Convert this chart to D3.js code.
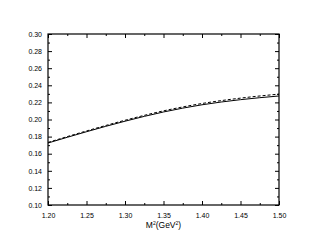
<!DOCTYPE html>
<html>
<head>
<meta charset="utf-8">
<script src="https://cdn.jsdelivr.net/npm/d3@7"></script>
<style>
  body { margin: 0; background: #fff; }
  text { font-family: "Liberation Sans", Arial, sans-serif; fill: #000; }
</style>
</head>
<body>
<div id="chart"></div>
<script>
// Data
var m2 = [1.20, 1.25, 1.30, 1.35, 1.40, 1.45, 1.50];
var solid = [0.1725, 0.1857, 0.1980, 0.2088, 0.2172, 0.2232, 0.2275];
var dashed = [0.1732, 0.1866, 0.1991, 0.2101, 0.2187, 0.2250, 0.2297];
var xTicks = [1.20, 1.25, 1.30, 1.35, 1.40, 1.45, 1.50];
var yTicks = [0.10, 0.12, 0.14, 0.16, 0.18, 0.20, 0.22, 0.24, 0.26, 0.28, 0.30];

var W = 313, H = 249;
var margin = {top: 34, right: 34, bottom: 44, left: 48},
    width = W - margin.left - margin.right,
    height = H - margin.top - margin.bottom;

var svg = d3.select("#chart")
  .append("svg")
    .attr("width", W)
    .attr("height", H)
  .append("g")
    .attr("transform", "translate(" + margin.left + "," + margin.top + ")");

var x = d3.scaleLinear().domain([1.20, 1.50]).range([0, width]);
var y = d3.scaleLinear().domain([0.10, 0.30]).range([height, 0]);

// minor ticks halfway between majors
var xMinor = d3.range(1.225, 1.5, 0.05);
var yMinor = d3.range(0.11, 0.30, 0.02);

function tickStyle(g) {
  g.select(".domain").remove();
  g.selectAll("line").attr("stroke", "#000").attr("stroke-width", 1);
  g.selectAll("text").attr("font-size", 7);
}

// bottom axis (ticks inside)
svg.append("g")
  .attr("transform", "translate(0," + height + ")")
  .call(d3.axisBottom(x).tickValues(xTicks).tickFormat(d3.format(".2f"))
    .tickSizeInner(-4).tickPadding(8))
  .call(tickStyle);
svg.append("g")
  .attr("transform", "translate(0," + height + ")")
  .call(d3.axisBottom(x).tickValues(xMinor).tickFormat("").tickSizeInner(-2))
  .call(tickStyle);

// top axis
svg.append("g")
  .call(d3.axisTop(x).tickValues(xTicks).tickFormat("").tickSizeInner(-4))
  .call(tickStyle);
svg.append("g")
  .call(d3.axisTop(x).tickValues(xMinor).tickFormat("").tickSizeInner(-2))
  .call(tickStyle);

// left axis
svg.append("g")
  .call(d3.axisLeft(y).tickValues(yTicks).tickFormat(d3.format(".2f"))
    .tickSizeInner(-4).tickPadding(6))
  .call(tickStyle);
svg.append("g")
  .call(d3.axisLeft(y).tickValues(yMinor).tickFormat("").tickSizeInner(-2))
  .call(tickStyle);

// right axis
svg.append("g")
  .attr("transform", "translate(" + width + ",0)")
  .call(d3.axisRight(y).tickValues(yTicks).tickFormat("").tickSizeInner(-4))
  .call(tickStyle);
svg.append("g")
  .attr("transform", "translate(" + width + ",0)")
  .call(d3.axisRight(y).tickValues(yMinor).tickFormat("").tickSizeInner(-2))
  .call(tickStyle);

// frame
svg.append("rect")
  .attr("width", width)
  .attr("height", height)
  .attr("fill", "none")
  .attr("stroke", "#000")
  .attr("stroke-width", 1.2);

var line = d3.line()
  .x(function(d) { return x(d[0]); })
  .y(function(d) { return y(d[1]); })
  .curve(d3.curveMonotoneX);

svg.append("path")
  .datum(d3.zip(m2, solid))
  .attr("fill", "none")
  .attr("stroke", "#000")
  .attr("stroke-width", 1)
  .attr("d", line);

svg.append("path")
  .datum(d3.zip(m2, dashed))
  .attr("fill", "none")
  .attr("stroke", "#000")
  .attr("stroke-width", 1)
  .attr("stroke-dasharray", "3,2")
  .attr("d", line);

// x title M²(GeV²)
var title = svg.append("text")
  .attr("x", width / 2)
  .attr("y", height + 23)
  .attr("text-anchor", "middle")
  .attr("font-size", 8.5);
title.append("tspan").text("M");
title.append("tspan").attr("font-size", 5).attr("dy", -3.5).text("2");
title.append("tspan").attr("dy", 3.5).text("(GeV");
title.append("tspan").attr("font-size", 5).attr("dy", -3.5).text("2");
title.append("tspan").attr("dy", 3.5).text(")");
</script>
</body>
</html>
